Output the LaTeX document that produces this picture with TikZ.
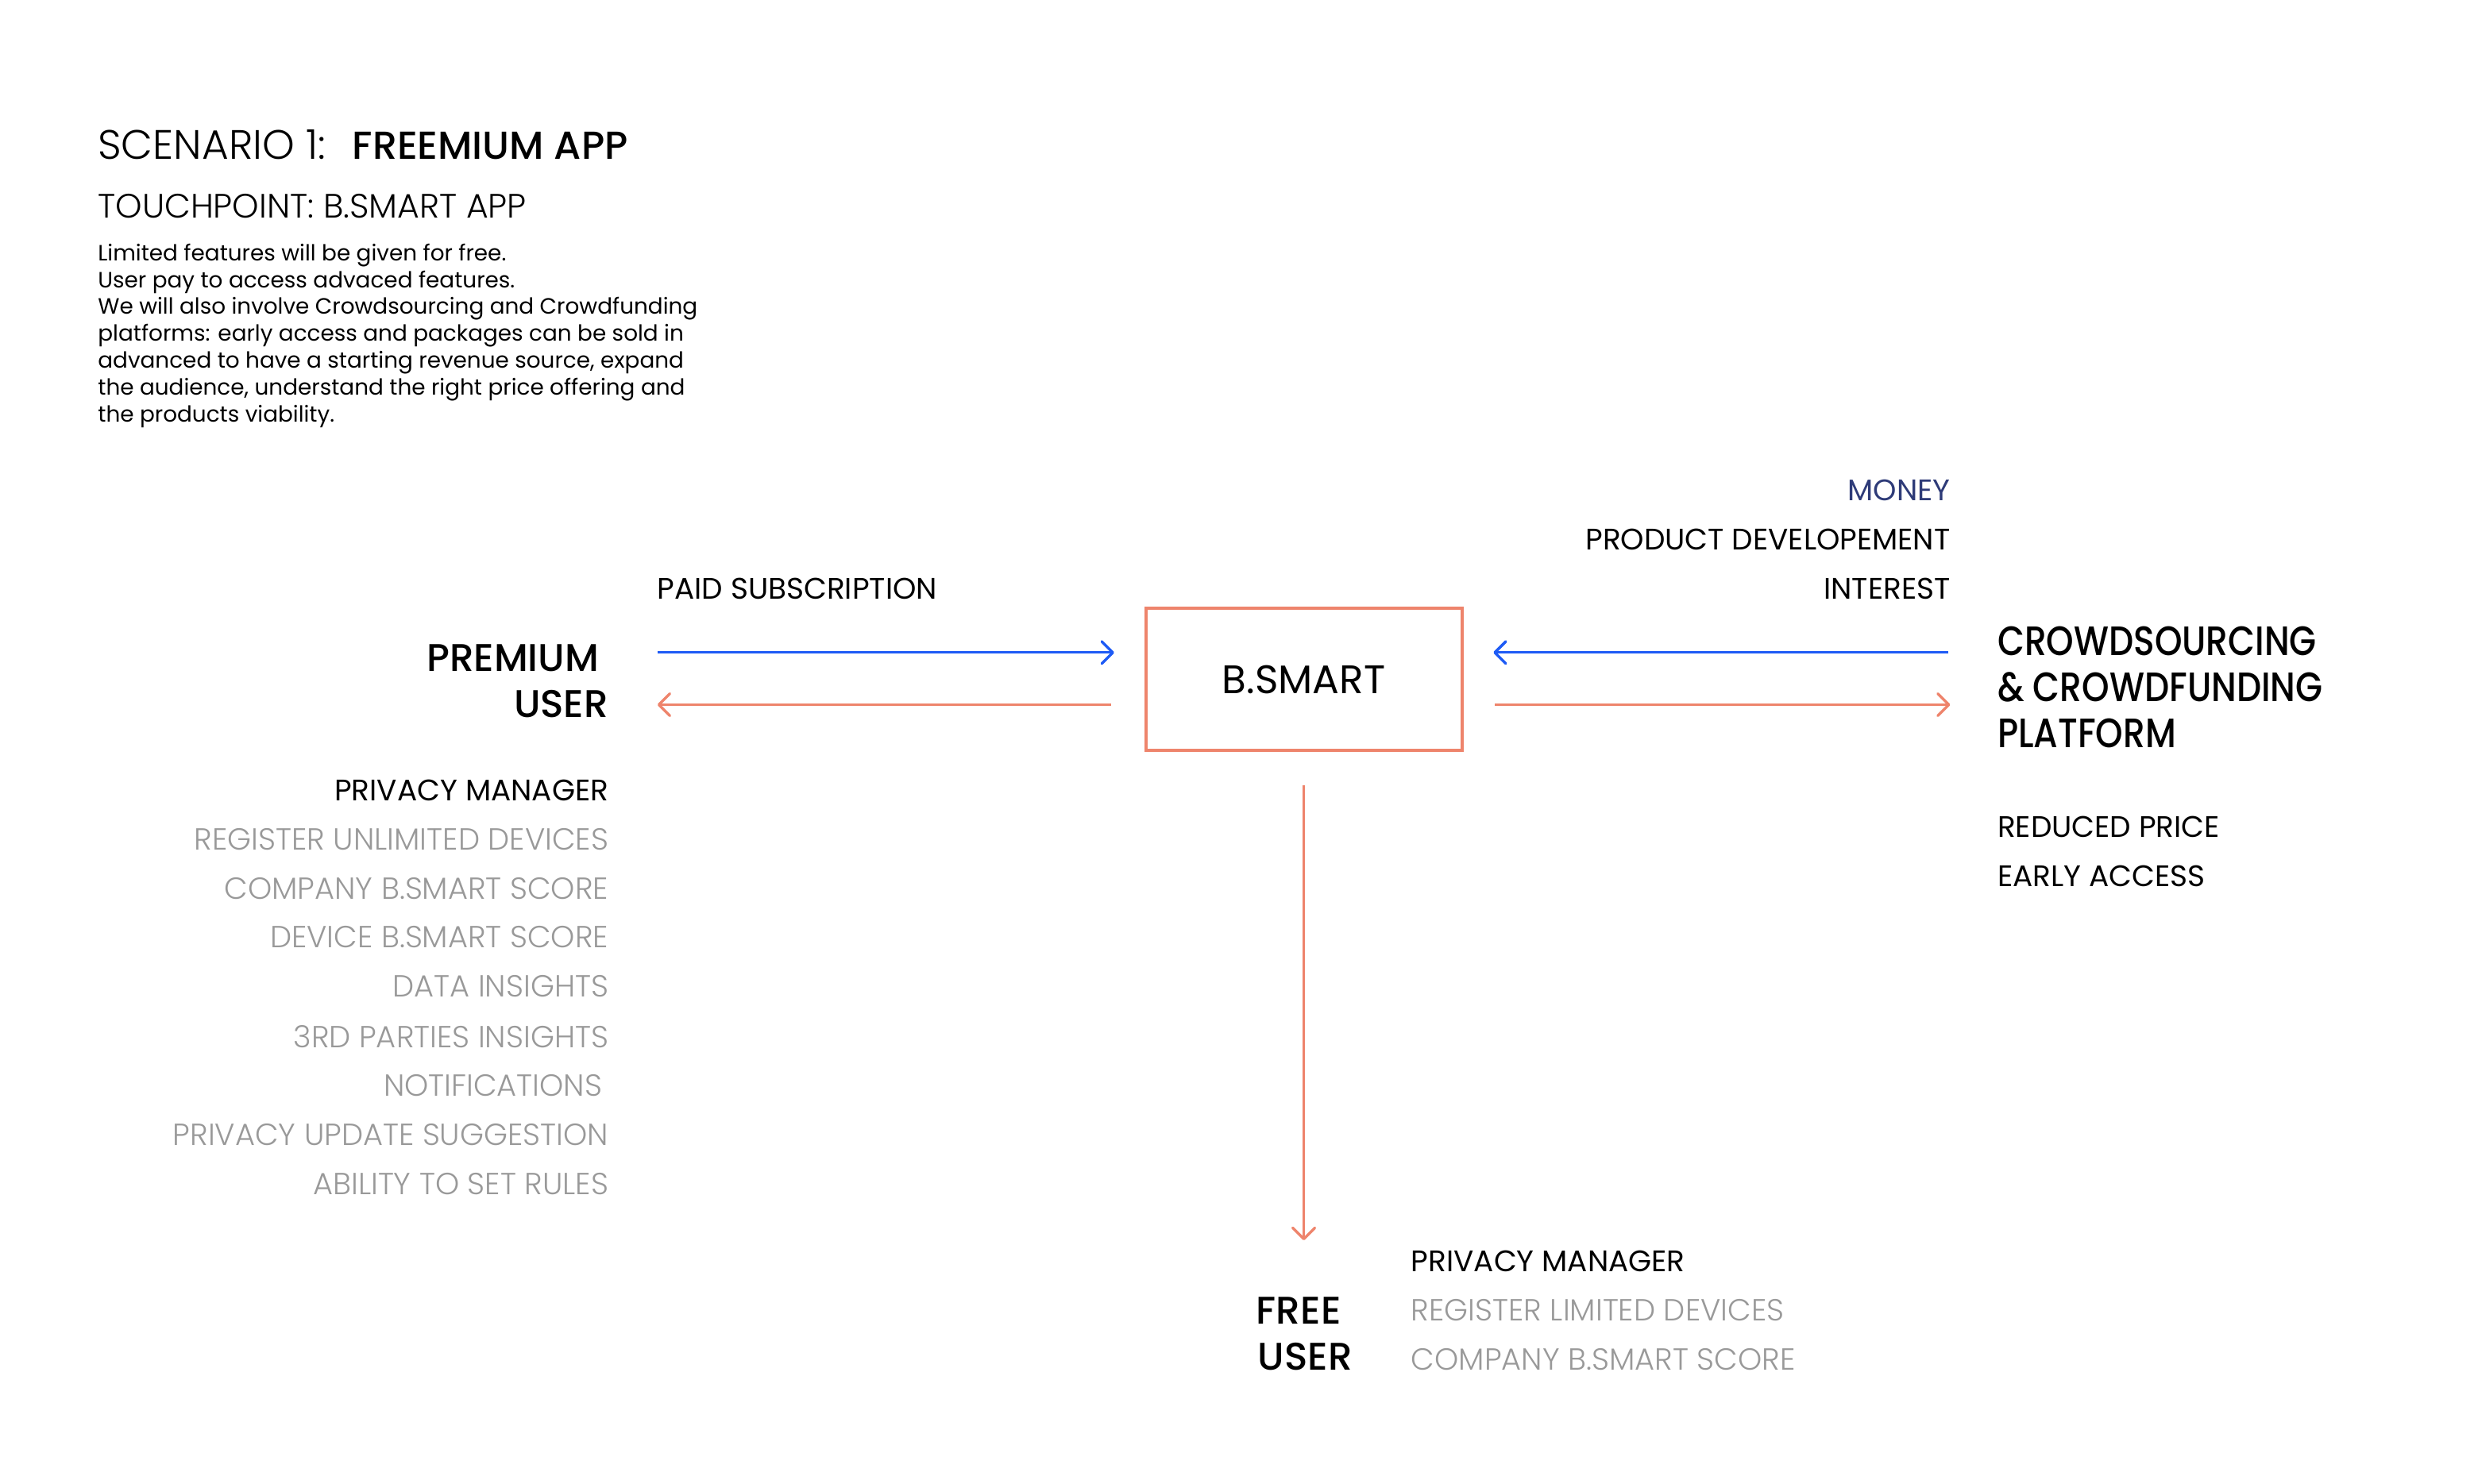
\documentclass[tikz,border=0pt]{standalone}
\usepackage{fontspec}
\setmainfont{Poppins}
\newfontfamily\plight{Poppins Light}
\newfontfamily\pmed{Poppins Medium}
\newfontfamily\pcond[FakeStretch=0.85]{Poppins Medium}
\usetikzlibrary{arrows.meta}
\definecolor{coral}{HTML}{EE846C}
\definecolor{royal}{HTML}{1E5BF5}
\definecolor{navy}{HTML}{2E3B78}
\definecolor{greytxt}{HTML}{999999}
\tikzset{
  txt/.style={inner sep=0pt, outer sep=0pt},
  lab/.style={txt, font=\fontsize{18.8}{22}\selectfont},
  greyitem/.style={txt, text=greytxt, font=\plight\fontsize{19.3}{22}\selectfont},
  bigtxt/.style={txt, font=\pmed\fontsize{24.4}{28}\selectfont},
  para/.style={txt, font=\fontsize{14}{17}\selectfont},
  tip/.style={-{Straight Barb[length=7pt,width=14pt,round]}},
  blueflow/.style={tip, draw=royal, line width=1.7pt},
  coralflow/.style={tip, draw=coral, line width=1.7pt},
}
\begin{document}
\begin{tikzpicture}[x=1pt,y=-1pt]
\useasboundingbox (0,0) rectangle (1568,939);
% header
\node[txt, anchor=base west, font=\plight\fontsize{26}{30}\selectfont] (t1) at (62,101) {SCENARIO 1:};
\node[txt, anchor=base west, font=\pmed\fontsize{24.7}{28}\selectfont] (t2) at (223,101) {FREEMIUM APP};
\node[txt, anchor=base west, font=\plight\fontsize{21.4}{24}\selectfont] (t3) at (62,138) {TOUCHPOINT: B.SMART APP};
\node[para, anchor=base west] (p1) at (62,165) {Limited features will be given for free.};
\node[para, anchor=base west] (p2) at (62,182) {User pay to access advaced features.};
\node[para, anchor=base west] (p3) at (62,199) {We will also involve Crowdsourcing and Crowdfunding};
\node[para, anchor=base west] (p4) at (62,216) {platforms: early access and packages can be sold in};
\node[para, anchor=base west] (p5) at (62,233) {advanced to have a starting revenue source, expand};
\node[para, anchor=base west] (p6) at (62,250) {the audience, understand the right price offering and};
\node[para, anchor=base west] (p7) at (62,267) {the products viability.};
% centre box
\node[draw=coral, line width=2pt, minimum width=200pt, minimum height=90pt, inner sep=0pt, font=\fontsize{25.2}{28}\selectfont] (bs) at (825,430) {B.SMART};
% premium user
\node[bigtxt, anchor=base east] (pu1) at (379,425) {PREMIUM};
\node[bigtxt, anchor=base east] (pu2) at (385,454) {USER};
\node[lab, anchor=base west] (paid) at (416,379) {PAID SUBSCRIPTION};
\coordinate (la1) at (416,413); \coordinate (lb1) at (705,413);
\coordinate (la2) at (416,446); \coordinate (lb2) at (703,446);
\draw[blueflow] (la1) -- (lb1);
\draw[coralflow] (lb2) -- (la2);
% premium list
\node[lab, anchor=base east] (pm) at (385,507) {PRIVACY MANAGER};
\node[greyitem, anchor=base east] (g1) at (385,538) {REGISTER UNLIMITED DEVICES};
\node[greyitem, anchor=base east] (g2) at (385,569) {COMPANY B.SMART SCORE};
\node[greyitem, anchor=base east] (g3) at (385,600) {DEVICE B.SMART SCORE};
\node[greyitem, anchor=base east] (g4) at (385,631) {DATA INSIGHTS};
\node[greyitem, anchor=base east] (g5) at (385,663) {3RD PARTIES INSIGHTS};
\node[greyitem, anchor=base east] (g6) at (381,694) {NOTIFICATIONS};
\node[greyitem, anchor=base east] (g7) at (385,725) {PRIVACY UPDATE SUGGESTION};
\node[greyitem, anchor=base east] (g8) at (385,756) {ABILITY TO SET RULES};
% crowd side
\node[lab, anchor=base east, text=navy] (money) at (1234,317) {MONEY};
\node[lab, anchor=base east] (prod) at (1234,348) {PRODUCT DEVELOPEMENT};
\node[lab, anchor=base east] (intr) at (1234,379) {INTEREST};
\coordinate (ra1) at (1233,413); \coordinate (rb1) at (945,413);
\coordinate (ra2) at (946,446); \coordinate (rb2) at (1234,446);
\draw[blueflow] (ra1) -- (rb1);
\draw[coralflow] (ra2) -- (rb2);
\node[txt, anchor=base west, font=\pcond\fontsize{26}{29}\selectfont] (c1) at (1264,415) {CROWDSOURCING};
\node[txt, anchor=base west, font=\pcond\fontsize{26}{29}\selectfont] (c2) at (1264,444) {\& CROWDFUNDING};
\node[txt, anchor=base west, font=\pcond\fontsize{26}{29}\selectfont] (c3) at (1264,473) {PLATFORM};
\node[lab, anchor=base west] (rp) at (1264,530) {REDUCED PRICE};
\node[lab, anchor=base west] (ea) at (1264,561) {EARLY ACCESS};
% free user
\coordinate (va) at (825,497); \coordinate (vb) at (825,785);
\draw[coralflow] (va) -- (vb);
\node[bigtxt, anchor=base west] (fu1) at (795,838) {FREE};
\node[bigtxt, anchor=base west] (fu2) at (796,867) {USER};
\node[lab, anchor=base west] (fpm) at (893,805) {PRIVACY MANAGER};
\node[greyitem, anchor=base west] (f1) at (893,836) {REGISTER LIMITED DEVICES};
\node[greyitem, anchor=base west] (f2) at (893,867) {COMPANY B.SMART SCORE};
\end{tikzpicture}
\end{document}
